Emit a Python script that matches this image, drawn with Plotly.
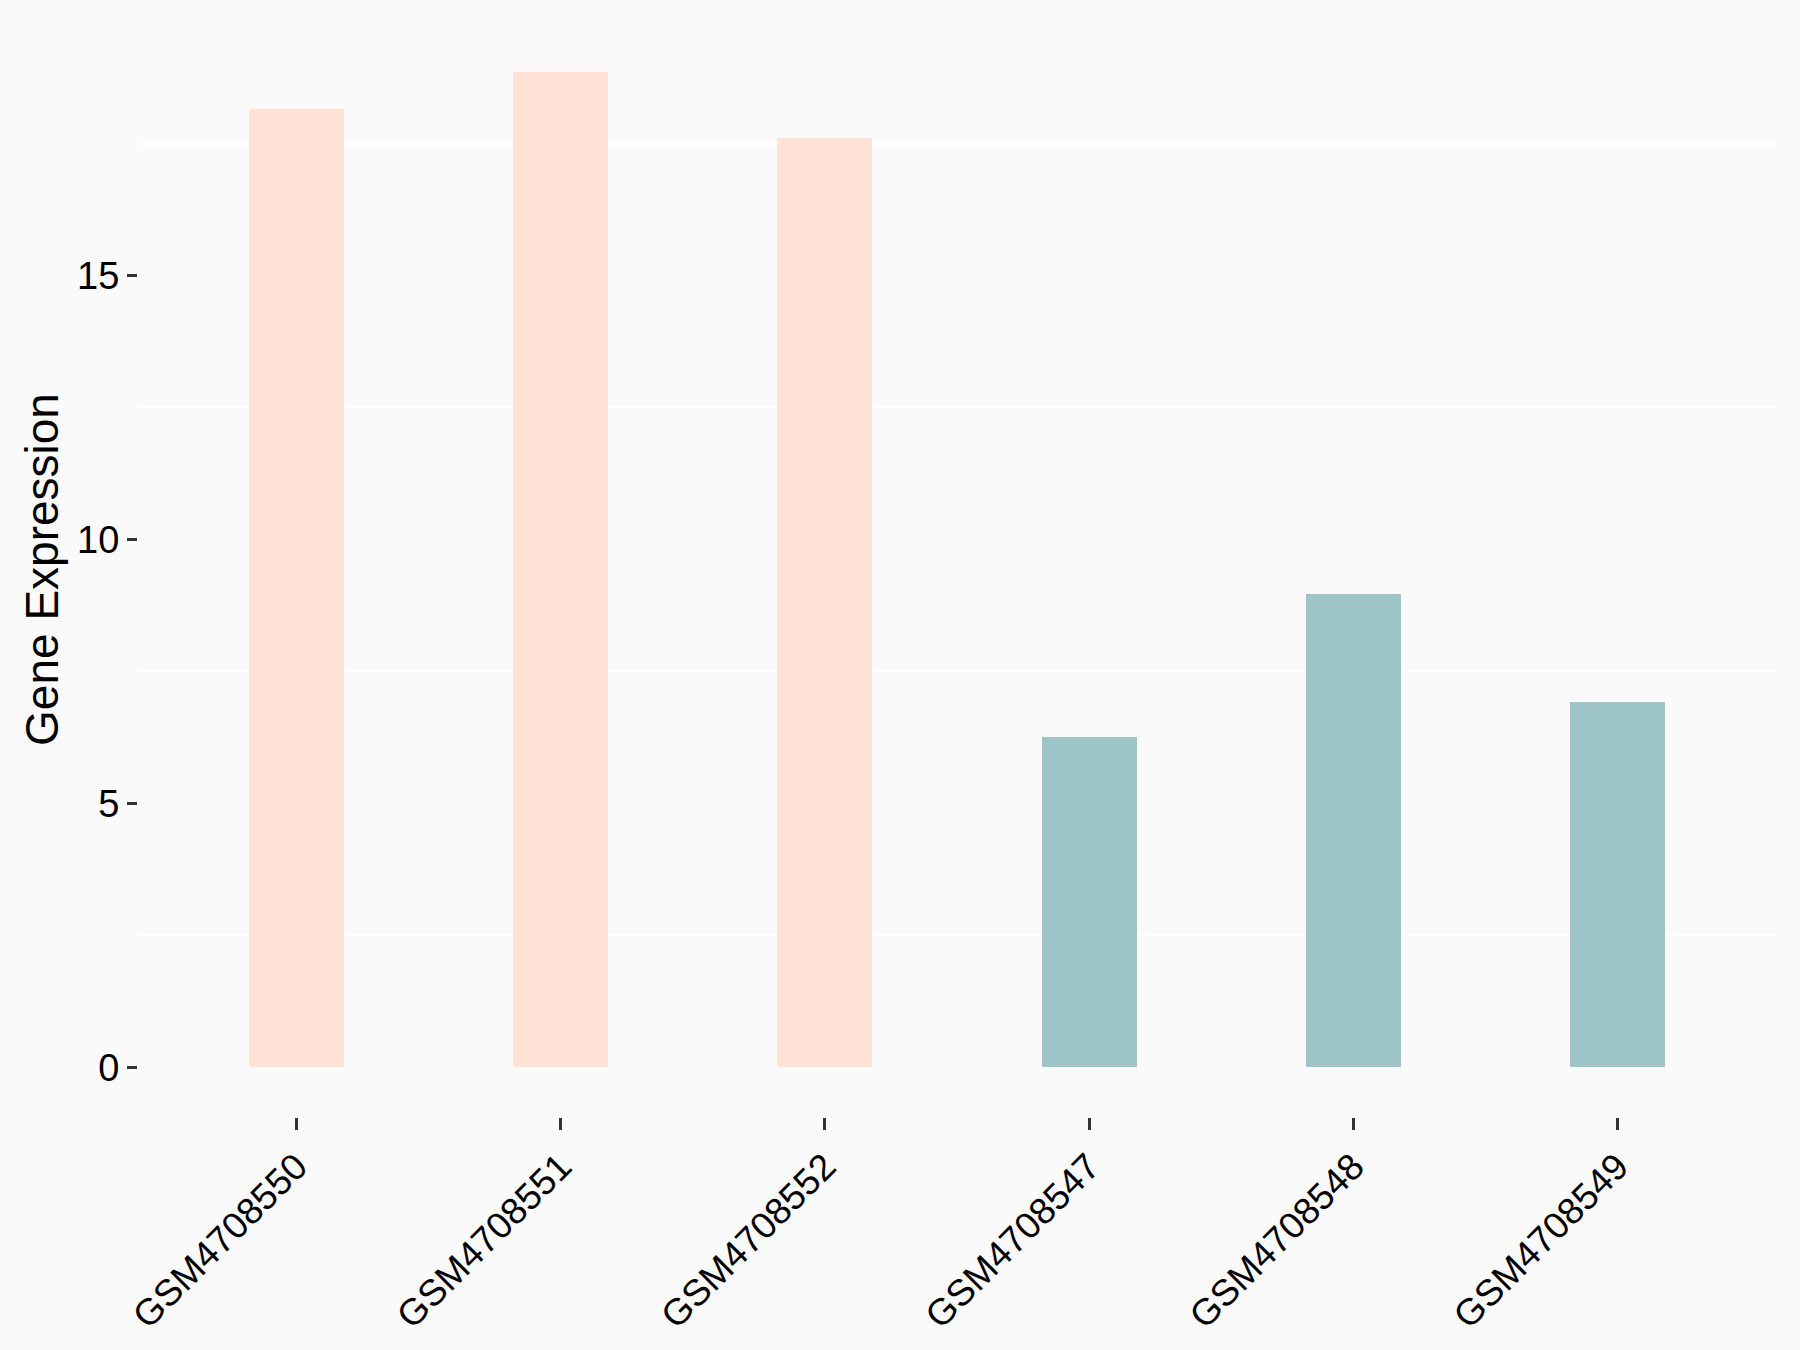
import plotly.graph_objects as go

samples = ["GSM4708550", "GSM4708551", "GSM4708552", "GSM4708547", "GSM4708548", "GSM4708549"]
expression = [18.16, 18.86, 17.61, 6.26, 8.97, 6.92]
groups = ["A", "A", "A", "B", "B", "B"]
group_colors = {"A": "#FFE1D6", "B": "#9DC4C7"}

y_ticks = [0, 5, 10, 15]
y_minor_grid = [2.5, 7.5, 12.5, 17.5]

font_family = "Liberation Sans, Arial, sans-serif"

fig = go.Figure(
    go.Bar(
        x=samples,
        y=expression,
        marker=dict(color=[group_colors[g] for g in groups], line=dict(width=0)),
        width=0.36,
        showlegend=False,
    )
)

ymax = max(expression)
pad = ymax * 0.05

fig.update_layout(
    width=1800,
    height=1350,
    margin=dict(l=138, r=24, t=22, b=233),
    paper_bgcolor="#FAFAFA",
    plot_bgcolor="#FAFAFA",
    font=dict(family=font_family, color="#000000", size=38),
    bargap=0,
)

fig.update_xaxes(
    type="category",
    categoryorder="array",
    categoryarray=samples,
    range=[-0.6, len(samples) - 0.4],
    showgrid=False,
    zeroline=False,
    showline=False,
    ticks="outside",
    ticklen=12,
    tickwidth=3,
    tickcolor="#333333",
    tickangle=-45,
    tickfont=dict(size=37, color="#000000", family=font_family),
)

fig.update_yaxes(
    range=[-pad, ymax + pad],
    tickvals=y_ticks,
    ticktext=[str(v) for v in y_ticks],
    showgrid=False,
    zeroline=False,
    showline=False,
    ticks="outside",
    ticklen=10,
    tickwidth=3,
    tickcolor="#333333",
    tickfont=dict(size=38, color="#000000", family=font_family),
    minor=dict(tickvals=y_minor_grid, showgrid=True, gridcolor="#FFFFFF", gridwidth=2, ticks=""),
    title=dict(text="Gene Expression", font=dict(size=46, color="#000000", family=font_family), standoff=4),
)

fig.write_html(
    "out.html",
    config={"displayModeBar": False},
    post_script="document.body.style.margin='0';",
)
